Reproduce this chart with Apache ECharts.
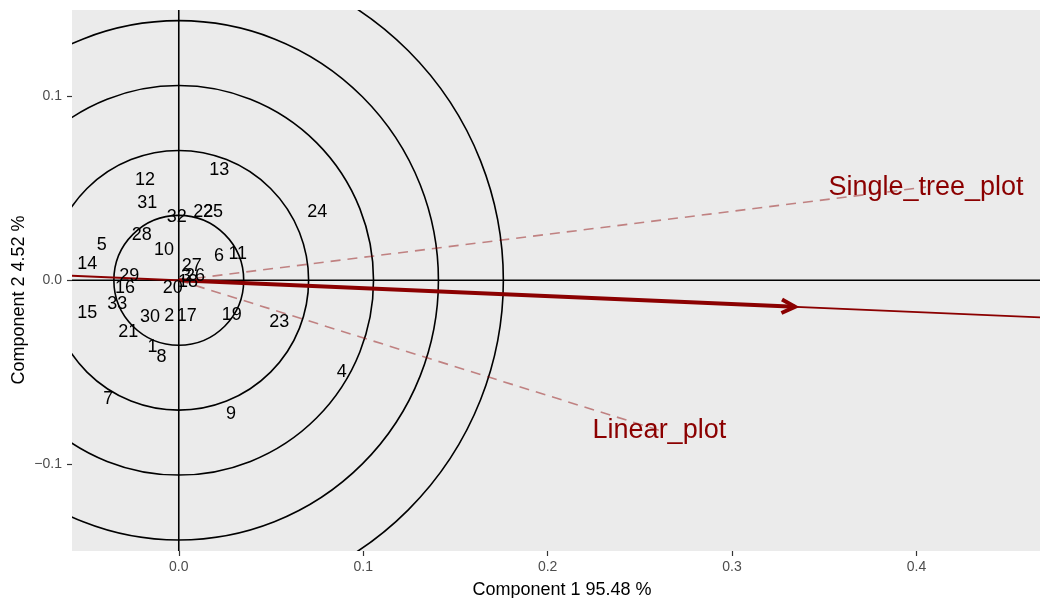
<!DOCTYPE html>
<html>
<head>
<meta charset="utf-8">
<script src="https://cdn.jsdelivr.net/npm/echarts@6/dist/echarts.min.js"></script>
<style>
html,body{margin:0;padding:0;background:#fff;}
#chart{width:1040px;height:598px;}
</style>
</head>
<body>
<div id="chart"></div>
<script>
// ---- data ----
const obsLabels = ['1','2','3','4','5','6','7','8','9','10','11','12','13','14','15','16','17','18','19','20','21','22','23','24','25','26','27','28','29','30','31','32','33'];
const pc1 = [-0.0143,-0.0051,0.0039,0.0884,-0.0418,0.0218,-0.0382,-0.0094,0.0283,-0.0080,0.0320,-0.0183,0.0220,-0.0496,-0.0496,-0.0291,0.0043,0.0050,0.0287,-0.0033,-0.0274,0.0133,0.0545,0.0751,0.0186,0.0088,0.0070,-0.0201,-0.0268,-0.0156,-0.0171,-0.0011,-0.0333];
const pc2 = [-0.0363,-0.0194,0.0022,-0.0499,0.0190,0.0132,-0.0643,-0.0419,-0.0725,0.0163,0.0141,0.0544,0.0598,0.0091,-0.0178,-0.0040,-0.0194,-0.0011,-0.0187,-0.0040,-0.0281,0.0371,-0.0227,0.0371,0.0371,0.0022,0.0080,0.0245,0.0022,-0.0200,0.0423,0.0344,-0.0131];
const varNames = ['Single_tree_plot','Linear_plot'];
const varPC1 = [0.4052, 0.2606];
const varPC2 = [0.0507, -0.0816];
const fitVector = [0.3342, -0.0144];
const circleRadii = [0.0352, 0.0704, 0.1056, 0.1408, 0.1760];
const xTicks = [0, 0.1, 0.2, 0.3, 0.4];
const yTicks = [-0.1, 0, 0.1];
const xTitle = 'Component 1 95.48 %';
const yTitle = 'Component 2 4.52 %';
const xMin = -0.0579, xMax = 0.467, yMin = -0.1472, yMax = 0.1470;

// ---- chart ----
const FONT = '"Liberation Sans", Arial, sans-serif';
const DARKRED = '#8B0000';
const chart = echarts.init(document.getElementById('chart'), null, {renderer: 'canvas'});
const fmt = v => v.toFixed(1).replace('-', '\u2212');

const series = [];

// circles
series.push({
  type: 'custom', z: 1, silent: true,
  data: circleRadii.map(r => [r, 0]),
  renderItem: function (params, api) {
    const c = api.coord([0, 0]);
    const r = api.size([api.value(0), 0])[0];
    const cs = params.coordSys;
    return {
      type: 'circle',
      shape: {cx: c[0], cy: c[1], r: r},
      style: {fill: 'none', stroke: '#000', lineWidth: 1.6},
      clipPath: {type: 'rect', shape: {x: cs.x, y: cs.y, width: cs.width, height: cs.height}}
    };
  }
});

// zero lines
series.push({type: 'line', z: 2, silent: true, symbol: 'none', data: [[xMin, 0], [xMax, 0]], lineStyle: {color: '#000', width: 1.6}});
series.push({type: 'line', z: 2, silent: true, symbol: 'none', data: [[0, yMin], [0, yMax]], lineStyle: {color: '#000', width: 1.6}});

// dashed variable lines
varNames.forEach((n, i) => {
  series.push({type: 'line', z: 3, silent: true, symbol: 'none',
    data: [[0, 0], [varPC1[i], varPC2[i]]],
    lineStyle: {color: 'rgba(139,0,0,0.45)', width: 1.6, type: [10, 7]}});
});

// extended thin fitted line
const tMin = xMin / fitVector[0], tMax = xMax / fitVector[0];
series.push({type: 'line', z: 4, silent: true, symbol: 'none',
  data: [[xMin, fitVector[1] * tMin], [xMax, fitVector[1] * tMax]],
  lineStyle: {color: DARKRED, width: 1.8}});

// main arrow
series.push({
  type: 'custom', z: 5, silent: true,
  data: [fitVector],
  renderItem: function (params, api) {
    const p0 = api.coord([0, 0]);
    const p1 = api.coord([api.value(0), api.value(1)]);
    const ang = Math.atan2(p1[1] - p0[1], p1[0] - p0[0]);
    const L = 15, a = 0.47;
    const w1 = [p1[0] - L * Math.cos(ang - a), p1[1] - L * Math.sin(ang - a)];
    const w2 = [p1[0] - L * Math.cos(ang + a), p1[1] - L * Math.sin(ang + a)];
    return {
      type: 'group',
      children: [
        {type: 'line', shape: {x1: p0[0], y1: p0[1], x2: p1[0], y2: p1[1]}, style: {stroke: DARKRED, lineWidth: 4}},
        {type: 'polyline', shape: {points: [w1, p1, w2]}, style: {stroke: DARKRED, lineWidth: 4, fill: null, lineJoin: 'miter'}}
      ]
    };
  }
});

// observation labels
series.push({
  type: 'scatter', z: 6, silent: true, symbolSize: 1,
  itemStyle: {color: 'rgba(0,0,0,0)', opacity: 1},
  data: obsLabels.map((n, i) => ({name: n, value: [pc1[i], pc2[i]]})),
  label: {show: true, position: 'inside', formatter: p => p.name, color: '#000', fontSize: 18, fontFamily: FONT,
    textBorderWidth: 0}
});

// variable labels
series.push({
  type: 'scatter', z: 7, silent: true, symbolSize: 1,
  itemStyle: {color: 'rgba(0,0,0,0)', opacity: 1},
  data: varNames.map((n, i) => ({name: n, value: [varPC1[i], varPC2[i]]})),
  label: {show: true, position: 'inside', formatter: p => p.name, color: DARKRED, fontSize: 27, fontFamily: FONT,
    textBorderWidth: 0}
});

const option = {
  animation: false,
  backgroundColor: '#fff',
  grid: {left: 72, right: 0, top: 10, bottom: 47, show: true, backgroundColor: '#EBEBEB', borderWidth: 0},
  xAxis: {
    type: 'value', min: xMin, max: xMax,
    axisLine: {show: false, onZero: false},
    splitLine: {show: false},
    axisTick: {show: true, length: 5, customValues: xTicks, lineStyle: {color: '#333', width: 1.2}},
    axisLabel: {show: true, customValues: xTicks, formatter: fmt, color: '#4D4D4D', fontSize: 14, fontFamily: FONT, margin: 9}
  },
  yAxis: {
    type: 'value', min: yMin, max: yMax,
    axisLine: {show: false, onZero: false},
    splitLine: {show: false},
    axisTick: {show: true, length: 5, customValues: yTicks, lineStyle: {color: '#333', width: 1.2}},
    axisLabel: {show: true, customValues: yTicks, formatter: fmt, color: '#4D4D4D', fontSize: 14, fontFamily: FONT, margin: 10}
  },
  graphic: [
    {type: 'text', x: 562, y: 590, style: {text: xTitle, fill: '#000', font: '18px ' + FONT, align: 'center', verticalAlign: 'middle'}},
    {type: 'text', x: 19, y: 300, rotation: Math.PI / 2, style: {text: yTitle, fill: '#000', font: '18px ' + FONT, align: 'center', verticalAlign: 'middle'}}
  ],
  series: series
};
chart.setOption(option);
</script>
</body>
</html>
